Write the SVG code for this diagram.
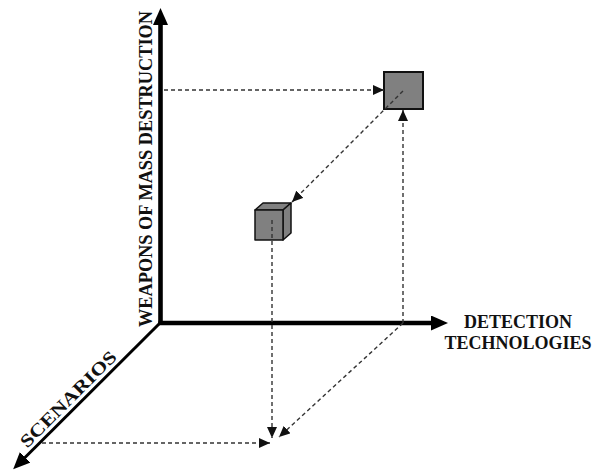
<svg xmlns="http://www.w3.org/2000/svg" width="596" height="472" viewBox="0 0 596 472">
<style>
.axis{stroke:#000;fill:none}
.dash{stroke:#333;stroke-width:1.4;stroke-dasharray:4 3;fill:none}
.lbl{font-family:"Liberation Serif","Times New Roman",serif;font-weight:bold;font-size:18px;fill:#111}
.box{fill:#808080;stroke:#111;stroke-width:2}
.face{fill:#808080;stroke:#111;stroke-width:1.5;stroke-linejoin:round}
</style>
<defs>
<marker id="axhead" viewBox="0 0 17 15" refX="1" refY="7.5" markerWidth="17" markerHeight="15" markerUnits="userSpaceOnUse" orient="auto">
<path d="M0,0 L17,7.5 L0,15 z" fill="#000"/>
</marker>
<marker id="dhead" viewBox="0 0 11 10" refX="11" refY="5" markerWidth="11" markerHeight="10" markerUnits="userSpaceOnUse" orient="auto">
<path d="M0,0 L11,5 L0,10 z" fill="#111"/>
</marker>
</defs>
<rect width="596" height="472" fill="#fff"/>
<g id="axes">
<line class="axis" x1="160.5" y1="325" x2="160.5" y2="24" stroke-width="4.6" marker-end="url(#axhead)"/>
<line class="axis" x1="158.5" y1="323" x2="432" y2="323" stroke-width="4.6" marker-end="url(#axhead)"/>
<line class="axis" x1="160" y1="323" x2="24.5" y2="458" stroke-width="3" marker-end="url(#axhead)"/>
</g>
<g id="labels">
<text class="lbl" transform="translate(152,169) rotate(-90)" text-anchor="middle" textLength="316" lengthAdjust="spacingAndGlyphs">WEAPONS OF MASS DESTRUCTION</text>
<text class="lbl" transform="translate(72.5,403.4) rotate(-45)" text-anchor="middle" textLength="128" lengthAdjust="spacingAndGlyphs">SCENARIOS</text>
<text class="lbl" x="518" y="328" text-anchor="middle">DETECTION</text>
<text class="lbl" x="518" y="349" text-anchor="middle">TECHNOLOGIES</text>
</g>
<g id="big-box">
<rect class="box" x="384" y="72" width="39" height="37"/>
</g>
<g id="small-cube">
<path class="face" d="M255,210 L263,203 L291,203 L283,210 z"/>
<path class="face" d="M283,210 L291,203 L291,233 L283,240 z" fill="#707070"/>
<rect class="face" x="255" y="210" width="28" height="30"/>
</g>
<g id="connectors">
<line class="dash" x1="164" y1="90" x2="384" y2="90" marker-end="url(#dhead)"/>
<line class="dash" x1="403" y1="323" x2="403" y2="110" marker-end="url(#dhead)"/>
<line class="dash" x1="403" y1="91" x2="292" y2="202" marker-end="url(#dhead)"/>
<line class="dash" x1="272" y1="220" x2="272" y2="438" marker-end="url(#dhead)"/>
<line class="dash" x1="403" y1="323" x2="279" y2="437" marker-end="url(#dhead)"/>
<line class="dash" x1="42" y1="443" x2="270" y2="443" marker-end="url(#dhead)"/>
</g>
</svg>
